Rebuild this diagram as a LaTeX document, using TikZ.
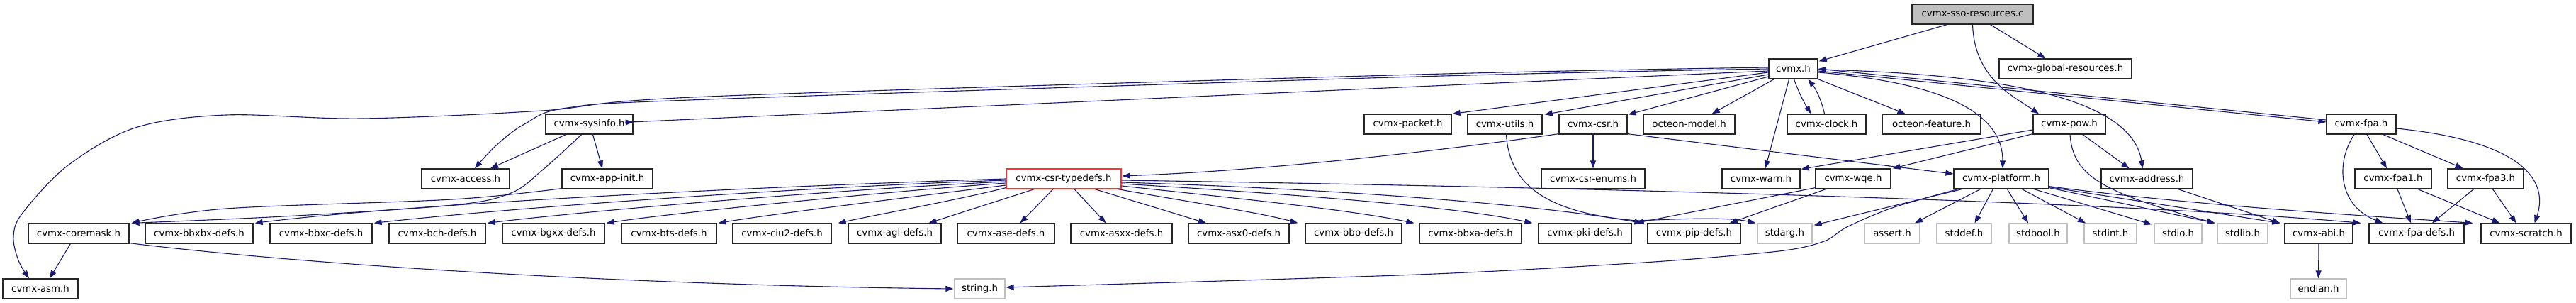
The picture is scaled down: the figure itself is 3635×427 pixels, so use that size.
\documentclass[tikz,border=0pt]{standalone}
\usepackage{fontspec}
\setmainfont{DejaVu Sans}
\usetikzlibrary{arrows.meta,calc}
\definecolor{edgec}{HTML}{191970}
\definecolor{sysgray}{HTML}{BFBFBF}
\definecolor{rootfill}{HTML}{BFBFBF}
\definecolor{trunc}{HTML}{FF3030}
\tikzset{
  box/.style={draw=black!85, fill=white, line width=1.3pt, minimum height=28pt, inner sep=0pt, font=\fontsize{13.3}{16}\selectfont},
  sysbox/.style={box, draw=sysgray},
  redbox/.style={box, draw=trunc},
  rootbox/.style={box, fill=rootfill},
  edge/.style={draw=edgec, line width=1.1pt, -{Triangle[length=11pt,width=8pt]}},
}
\begin{document}
\begin{tikzpicture}[x=1pt,y=-1pt]
\useasboundingbox (0,0) rectangle (3635,427);
% row 0/1
\node[rootbox,minimum width=171pt] (root) at (2783.5,20) {cvmx-sso-resources.c};
\node[box,minimum width=69pt] (cvmx) at (2530.5,97) {cvmx.h};
\node[box,minimum width=187pt] (global) at (2914.5,97) {cvmx-global-resources.h};
% row 2
\node[box,minimum width=123pt] (sysinfo) at (831.5,175) {cvmx-sysinfo.h};
\node[box,minimum width=123pt] (packet) at (1986.5,175) {cvmx-packet.h};
\node[box,minimum width=105pt] (utils) at (2123.5,175) {cvmx-utils.h};
\node[box,minimum width=96pt] (csr) at (2248,175) {cvmx-csr.h};
\node[box,minimum width=129pt] (model) at (2383.5,175) {octeon-model.h};
\node[box,minimum width=111pt] (clock) at (2577.5,175) {cvmx-clock.h};
\node[box,minimum width=139pt] (feature) at (2725.5,175) {octeon-feature.h};
\node[box,minimum width=102pt] (pow) at (2920,175) {cvmx-pow.h};
\node[box,minimum width=98pt] (fpa) at (3332,175) {cvmx-fpa.h};
% row 3
\node[box,minimum width=124pt] (access) at (657,252) {cvmx-access.h};
\node[box,minimum width=128pt] (appinit) at (857,252) {cvmx-app-init.h};
\node[redbox,minimum width=162pt] (typedefs) at (1501,252) {cvmx-csr-typedefs.h};
\node[box,minimum width=146pt] (enums) at (2248,252) {cvmx-csr-enums.h};
\node[box,minimum width=110pt] (warn) at (2485,252) {cvmx-warn.h};
\node[box,minimum width=106pt] (wqe) at (2615,252) {cvmx-wqe.h};
\node[box,minimum width=134pt] (platform) at (2824,252) {cvmx-platform.h};
\node[box,minimum width=129pt] (address) at (3029.5,252) {cvmx-address.h};
\node[box,minimum width=108pt] (fpaone) at (3377,252) {cvmx-fpa1.h};
\node[box,minimum width=107pt] (fpathree) at (3507.5,252) {cvmx-fpa3.h};
% row 4
\node[box,minimum width=142pt] (coremask) at (111,329) {cvmx-coremask.h};
\node[box,minimum width=152pt] (bbxbx) at (281,329) {cvmx-bbxbx-defs.h};
\node[box,minimum width=144pt] (bbxc) at (453,329) {cvmx-bbxc-defs.h};
\node[box,minimum width=136pt] (bch) at (617,329) {cvmx-bch-defs.h};
\node[box,minimum width=144pt] (bgxx) at (781,329) {cvmx-bgxx-defs.h};
\node[box,minimum width=134pt] (bts) at (944,329) {cvmx-bts-defs.h};
\node[box,minimum width=139pt] (ciu) at (1103.5,329) {cvmx-ciu2-defs.h};
\node[box,minimum width=131pt] (agl) at (1262.5,329) {cvmx-agl-defs.h};
\node[box,minimum width=137pt] (ase) at (1419.5,329) {cvmx-ase-defs.h};
\node[box,minimum width=143pt] (asxx) at (1582.5,329) {cvmx-asxx-defs.h};
\node[box,minimum width=142pt] (asxo) at (1748,329) {cvmx-asx0-defs.h};
\node[box,minimum width=136pt] (bbp) at (1910,329) {cvmx-bbp-defs.h};
\node[box,minimum width=144pt] (bbxa) at (2075,329) {cvmx-bbxa-defs.h};
\node[box,minimum width=131pt] (pki) at (2236.5,329) {cvmx-pki-defs.h};
\node[box,minimum width=131pt] (pip) at (2390.5,329) {cvmx-pip-defs.h};
\node[sysbox,minimum width=77pt] (stdarg) at (2518.5,329) {stdarg.h};
\node[sysbox,minimum width=78pt] (assert) at (2670,329) {assert.h};
\node[sysbox,minimum width=77pt] (stddef) at (2771.5,329) {stddef.h};
\node[sysbox,minimum width=82pt] (stdbool) at (2876,329) {stdbool.h};
\node[sysbox,minimum width=74pt] (stdint) at (2978,329) {stdint.h};
\node[sysbox,minimum width=67pt] (stdio) at (3073.5,329) {stdio.h};
\node[sysbox,minimum width=71pt] (stdlib) at (3164.5,329) {stdlib.h};
\node[box,minimum width=96pt] (abi) at (3272,329) {cvmx-abi.h};
\node[box,minimum width=134pt] (fpadefs) at (3410,329) {cvmx-fpa-defs.h};
\node[box,minimum width=127pt] (scratch) at (3564.5,329) {cvmx-scratch.h};
% row 5
\node[box,minimum width=106pt] (asm) at (57,407) {cvmx-asm.h};
\node[sysbox,minimum width=71pt] (string) at (1382.5,407) {string.h};
\node[sysbox,minimum width=79pt] (endian) at (3271.5,407) {endian.h};

% ---- edges from root
\draw[edge] ($(root.south)+(-36,0)$) -- ($(cvmx.north east)+(1,4)$);
\draw[edge] ($(root.south)+(25,0)$) -- ($(global.north)+(-28,0)$);
\draw[edge] ($(root.south)+(0,0)$) .. controls (2786,110) and (2840,135) .. ($(pow.north)+(-43,0)$);

% ---- edges from cvmx.h
\draw[edge] plot[smooth,tension=0.55] coordinates {($(cvmx.west)+(0,-2)$) (2000,105) (1000,136) (765,156) (510,167) (319,162) (191,180) (96,233) (32,300) (19,333) (26,367) ($(asm.north)+(-16,0)$)};
\draw[edge] plot[smooth,tension=0.55] coordinates {($(cvmx.west)+(0,0)$) (2000,108) (1000,140) (800,152) (740,175) (700,205) ($(access.north)+(13,0)$)};
\draw[edge] plot[smooth,tension=0.5] coordinates {($(cvmx.west)+(0,3)$) (2000,122) (1000,167) ($(sysinfo.east)+(0,-3)$)};
\draw[edge] ($(cvmx.west)+(0,5)$) -- ($(packet.north east)+(1,0)$);
\draw[edge] ($(cvmx.west)+(0,8)$) -- ($(utils.north east)+(3,1)$);
\draw[edge] ($(cvmx.west)+(0,11)$) -- ($(csr.north east)+(1,1)$);
\draw[edge] ($(cvmx.south west)+(8,0)$) -- ($(model.north east)+(-33,0)$);
\draw[edge] ($(cvmx.south)+(1,0)$) .. controls (2538,130) and (2546,145) .. ($(clock.north)+(-22,0)$);
\draw[edge] ($(clock.north)+(-3,0)$) .. controls (2570,140) and (2562,125) .. ($(cvmx.south)+(21,0)$);
\draw[edge] ($(cvmx.south east)+(0,0)$) -- ($(feature.north)+(-37,0)$);
\draw[edge] ($(cvmx.south)+(-6,0)$) -- ($(warn.north)+(6,0)$);
\draw[edge] ($(cvmx.east)+(0,5)$) .. controls (2720,115) and (2826,150) .. ($(platform.north)+(2,0)$);
\draw[edge] ($(cvmx.east)+(0,1)$) .. controls (2870,105) and (3010,150) .. ($(address.north)+(-6,0)$);
\draw[edge] ($(cvmx.east)+(0,3)$) -- ($(fpa.west)+(0,-3)$);
\draw[edge] ($(fpa.west)+(0,-6)$) -- ($(cvmx.east)+(0,0)$);

% ---- pow
\draw[edge] ($(pow.west)+(0,8)$) -- ($(warn.north east)+(1,1)$);
\draw[edge] ($(pow.south west)+(0,-1)$) -- ($(wqe.north east)+(2,0)$);
\draw[edge] ($(pow.south)+(19,0)$) -- ($(address.north)+(-25,0)$);
\draw[edge] ($(pow.south)+(1,0)$) .. controls (2925,245) and (2960,270) .. ($(stdlib.north west)+(-3,0)$);

% ---- csr, utils
\draw[edge] (csr.south) -- (enums.north);
\draw[edge] ($(csr.south west)+(0,-1)$) .. controls (2050,210) and (1800,240) .. ($(typedefs.east)+(1,-4)$);
\draw[edge] ($(csr.south east)+(0,-1)$) -- ($(platform.west)+(0,-7)$);
\draw[edge] ($(utils.south)+(2,0)$) .. controls (2130,260) and (2180,300) .. (2310,311) .. controls (2380,308) and (2440,306) .. ($(stdarg.north west)+(-2,0)$);

% ---- platform
\draw[edge] ($(platform.south west)+(12,0)$) -- ($(stdarg.north east)+(2,3)$);
\draw[edge] plot[smooth,tension=0.5] coordinates {($(platform.south west)+(6,0)$) (2670,293) (2606,320) (2574,340) (2510,354) (2319,370) (2000,387) ($(string.east)+(1,-2)$)};
\draw[edge] ($(platform.south west)+(38,0)$) -- ($(assert.north)+(32,0)$);
\draw[edge] ($(platform.south west)+(56,0)$) -- ($(stddef.north)+(15,0)$);
\draw[edge] ($(platform.south west)+(76,0)$) -- ($(stdbool.north)+(-14,0)$);
\draw[edge] ($(platform.south west)+(97,0)$) -- ($(stdint.north)+(-35,0)$);
\draw[edge] ($(platform.south west)+(114,0)$) -- ($(stdio.north west)+(-3,2)$);
\draw[edge] ($(platform.south east)+(0,-2)$) -- ($(stdlib.north west)+(-3,0)$);
\draw[edge] ($(platform.south east)+(0,-3)$) -- ($(abi.north west)+(-6,0)$);
\draw[edge] ($(platform.south east)+(0,-4)$) .. controls (3100,290) and (3350,305) .. ($(scratch.north west)+(-11,0)$);

% ---- address, abi
\draw[edge] ($(address.south)+(44,0)$) -- ($(abi.north west)+(-6,0)$);
\draw[edge] (abi.south) -- (endian.north);

% ---- fpa family
\draw[edge] ($(fpa.south)+(8,0)$) -- ($(fpaone.north)+(-9,0)$);
\draw[edge] ($(fpa.south)+(31,0)$) -- ($(fpathree.north)+(-32,0)$);
\draw[edge] ($(fpa.south)+(-10,0)$) .. controls (3295,230) and (3300,290) .. ($(fpadefs.north west)+(20,0)$);
\draw[edge] ($(fpa.east)+(0,6)$) .. controls (3570,200) and (3595,260) .. ($(scratch.north)+(12,0)$);
\draw[edge] ($(fpaone.south)+(6,0)$) -- ($(fpadefs.north)+(-8,0)$);
\draw[edge] ($(fpaone.south)+(35,0)$) -- ($(scratch.north west)+(27,0)$);
\draw[edge] ($(fpathree.south)+(-17,0)$) -- ($(fpadefs.north)+(22,0)$);
\draw[edge] ($(fpathree.south)+(10,0)$) -- ($(scratch.north)+(-14,0)$);

% ---- sysinfo, app-init, coremask
\draw[edge] ($(sysinfo.south)+(-33,0)$) -- ($(access.north)+(35,0)$);
\draw[edge] ($(sysinfo.south)+(5,0)$) -- ($(appinit.north)+(-7,0)$);
\draw[edge] plot[smooth,tension=0.55] coordinates {($(sysinfo.south)+(-11,0)$) (765,240) (721,272) (640,289) (400,305) ($(coremask.north east)+(3,0)$)};
\draw[edge] plot[smooth,tension=0.55] coordinates {($(appinit.south west)+(0,-1)$) (638,281) (319,294) ($(coremask.north east)+(3,0)$)};
\draw[edge] ($(coremask.south west)+(60,0)$) -- ($(asm.north)+(13,0)$);
\draw[edge] ($(coremask.south east)+(0,-1)$) .. controls (450,375) and (900,402) .. ($(string.west)+(-1,0)$);

% ---- csr-typedefs
\draw[edge] ($(typedefs.west)+(0,0)$) .. controls (1100,262) and (600,285) .. ($(bbxbx.north east)+(2,0)$);
\draw[edge] ($(typedefs.west)+(0,2)$) .. controls (1150,263) and (750,290) .. ($(bbxc.north east)+(2,0)$);
\draw[edge] ($(typedefs.west)+(0,4)$) .. controls (1200,266) and (850,295) .. ($(bch.north east)+(2,0)$);
\draw[edge] ($(typedefs.west)+(0,6)$) .. controls (1250,270) and (950,300) .. ($(bgxx.north east)+(2,0)$);
\draw[edge] ($(typedefs.west)+(0,9)$) .. controls (1300,276) and (1100,300) .. ($(bts.north east)+(2,0)$);
\draw[edge] ($(typedefs.south west)+(0,-2)$) .. controls (1350,282) and (1250,300) .. ($(ciu.north east)+(9,0)$);
\draw[edge] ($(typedefs.south west)+(40,0)$) -- ($(agl.north)+(48,0)$);
\draw[edge] ($(typedefs.south)+(-15,0)$) -- ($(ase.north)+(20,0)$);
\draw[edge] ($(typedefs.south)+(15,0)$) -- ($(asxx.north)+(-22,0)$);
\draw[edge] ($(typedefs.south)+(44,0)$) -- ($(asxo.north)+(-46,0)$);
\draw[edge] ($(typedefs.south east)+(-5,0)$) .. controls (1680,285) and (1780,300) .. ($(bbp.north west)+(-10,0)$);
\draw[edge] ($(typedefs.east)+(0,10)$) .. controls (1750,280) and (1900,295) .. ($(bbxa.north west)+(-7,0)$);
\draw[edge] ($(typedefs.east)+(0,7)$) .. controls (1800,272) and (2050,290) .. ($(pki.north west)+(-8,0)$);
\draw[edge] ($(typedefs.east)+(0,5)$) .. controls (1850,265) and (2150,285) .. ($(pip.north west)+(-7,0)$);
\draw[edge] ($(typedefs.east)+(0,2)$) .. controls (2300,265) and (3000,285) .. ($(fpadefs.north west)+(-11,0)$);

% ---- wqe
\draw[edge] ($(wqe.south west)+(0,-2)$) -- ($(pki.north east)+(6,0)$);
\draw[edge] ($(wqe.south west)+(15,0)$) -- ($(pip.north east)+(-16,0)$);
\end{tikzpicture}
\end{document}
